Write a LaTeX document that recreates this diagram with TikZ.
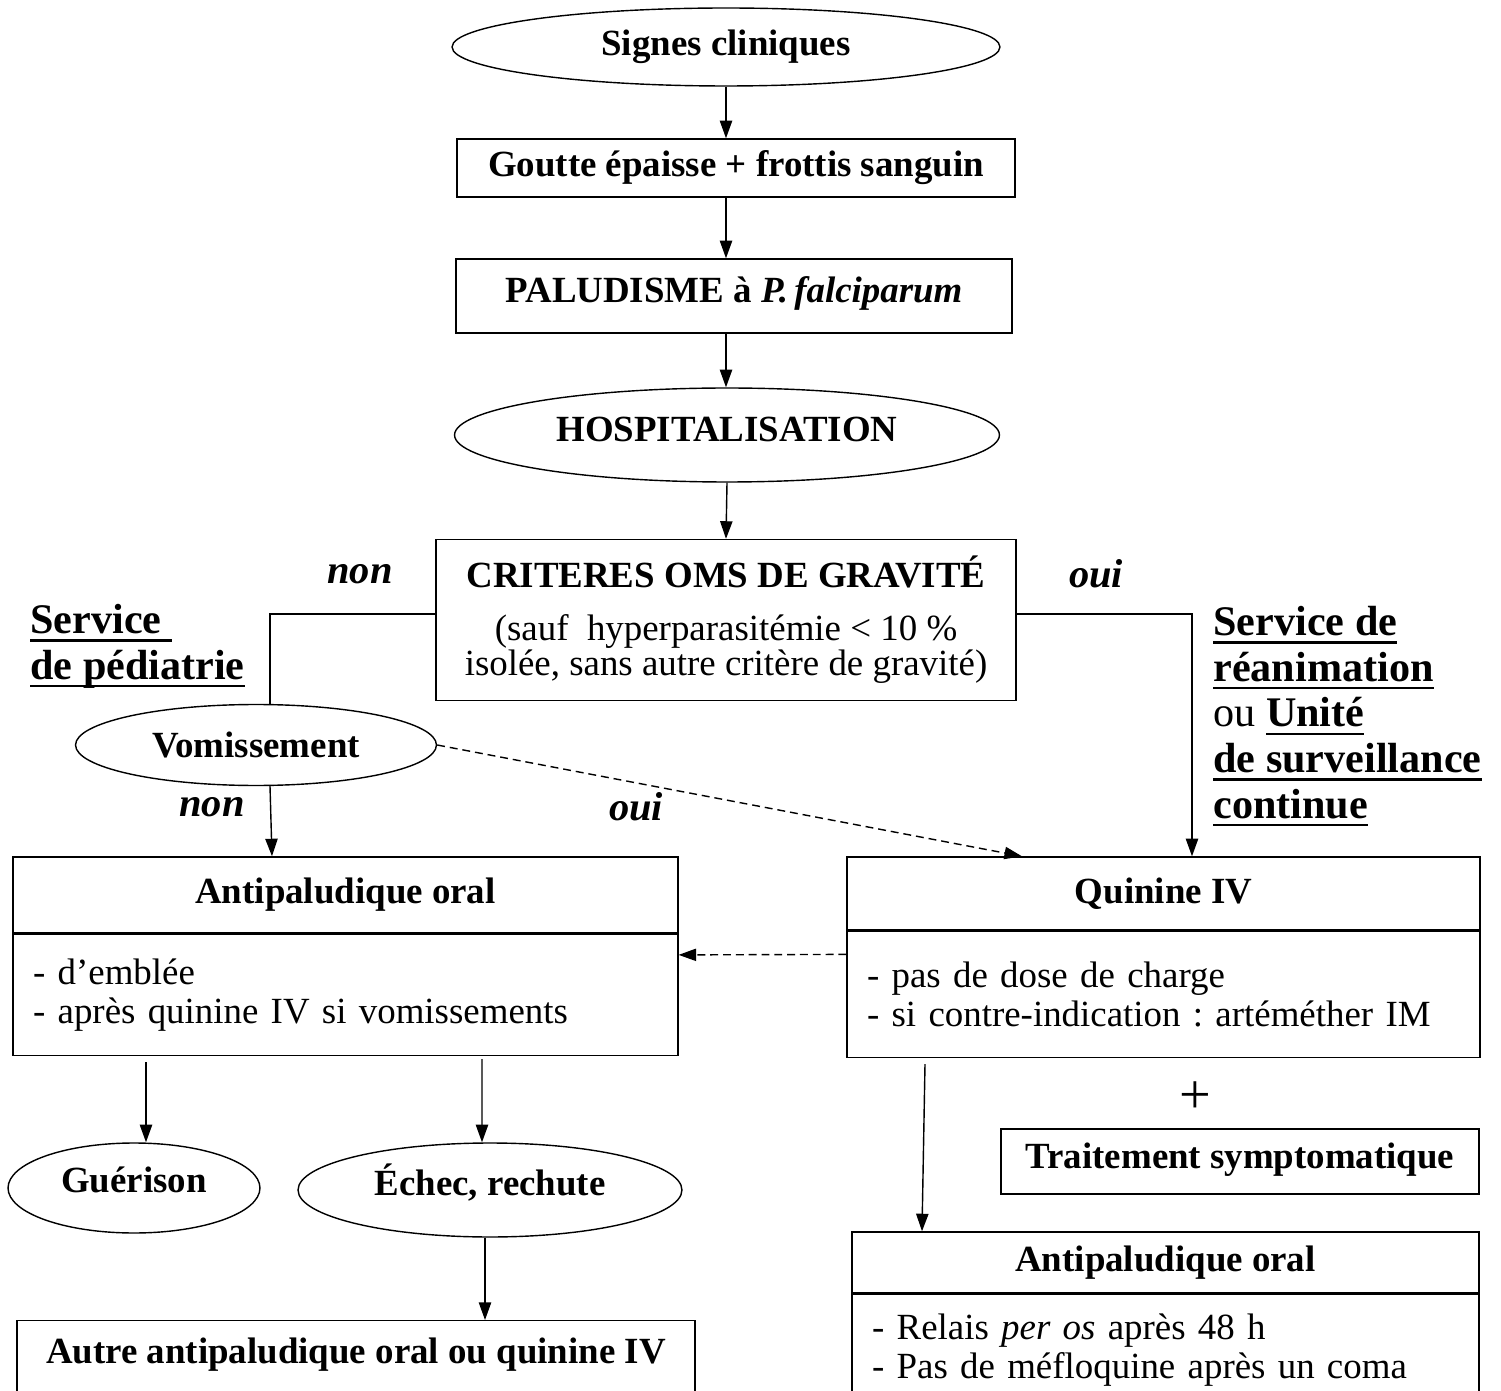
\documentclass[tikz,border=0pt]{standalone}
\usepackage{fontspec}
\setmainfont{Liberation Serif}
\usetikzlibrary{shapes.geometric,arrows.meta,positioning,calc}
\newcommand{\srvline}[1]{\setbox0\hbox{#1}\rlap{\rule[-4.5pt]{\wd0}{1.2pt}}\box0}

\begin{document}
\frenchspacing
\begin{tikzpicture}[x=0.02cm,y=-0.02cm]
      \tikzstyle{every node} = [font=\fontsize{21}{25}\selectfont]
      \tikzstyle{oval} = [draw, ellipse, inner sep=0pt, line width=0.8pt]
      \tikzstyle{block} = [draw, rectangle, inner sep=0pt, line width=0.8pt]
      \tikzstyle{listbox} = [draw, rectangle, line width=0.8pt, align=left, inner xsep=0.4cm, inner ysep=11pt, font=\fontsize{21}{22.5}\selectfont]
      \tikzstyle{flow} = [-{Triangle[length=10pt,width=7pt]}, line width=0.8pt]
      \tikzstyle{dflow} = [flow, dash pattern=on 4.5pt off 2.8pt]
      \tikzstyle{answer} = [font=\fontsize{23}{25}\selectfont\bfseries\itshape]
      \tikzstyle{service} = [align=left, inner sep=0pt, font=\fontsize{24}{26}\selectfont\bfseries]
      \useasboundingbox (0,0) rectangle (1501,1391);
      \clip (0,0) rectangle (1501,1391);
      % Main column
      \node[oval, minimum width=10.96cm, minimum height=1.56cm] (signes) at (726,47) {\textbf{Signes cliniques}};
      \node[block, minimum width=11.16cm, minimum height=1.16cm] (goutte) at (736,168) {\textbf{Goutte épaisse + frottis sanguin}};
      \node[block, minimum width=11.12cm, minimum height=1.48cm, text depth=7pt] (palu) at (734,296) {\textbf{PALUDISME à \textit{P.\,falciparum}}};
      \node[oval, minimum width=10.9cm, minimum height=1.88cm, text depth=6pt] (hospit) at (727,435) {\textbf{HOSPITALISATION}};
      \node[block, minimum width=11.6cm, minimum height=3.22cm, align=center, font=\fontsize{21}{20}\selectfont] (criteres) at (726,620) {\textbf{CRITERES OMS DE GRAVITÉ}\\[10pt](sauf~ hyperparasitémie < 10~\%\\isolée, sans autre critère de gravité)};
      \node[answer] (nonA) at (360,574) {non};
      \node[answer] (ouiA) at (1096,574) {oui};
      \node[service, anchor=north west] (pediatrie) at (30,604) {\srvline{Service\ }\\\srvline{de pédiatrie}};
      \node[service, anchor=north west] (reanim) at (1213,606) {\srvline{Service de}\\\srvline{réanimation}\\\textmd{ou} \srvline{Unité}\\\srvline{de surveillance}\\\srvline{continue}};
      % Left branch
      \node[oval, minimum width=7.22cm, minimum height=1.62cm] (vomit) at (256,745) {\textbf{Vomissement}};
      \node[answer] (nonB) at (212,807) {non};
      \node[answer] (ouiB) at (636,807) {oui};
      \node[block, minimum width=13.3cm, minimum height=1.52cm] (oralhead) at (345.5,895) {\textbf{Antipaludique oral}};
      \node[listbox, below=0pt of oralhead, minimum width=13.3cm, minimum height=2.42cm, text width=12.5cm] (oralbody) {- d’emblée\\- après quinine IV si vomissements};
      \node[oval, minimum width=5.04cm, minimum height=1.8cm, text depth=9pt] (gueri) at (134,1188) {\textbf{Guérison}};
      \node[oval, minimum width=7.68cm, minimum height=1.88cm, text depth=12pt] (echec) at (490,1190) {\textbf{Échec, rechute}};
      \node[block, anchor=north, minimum width=13.56cm, inner ysep=10pt, text depth=3cm] (autre) at (356,1320) {\textbf{Autre antipaludique oral ou quinine IV}};
      % Right branch
      \node[block, minimum width=12.66cm, minimum height=1.46cm] (quinhead) at (1163.5,893.5) {\textbf{Quinine IV}};
      \node[listbox, below=0pt of quinhead, minimum width=12.66cm, minimum height=2.52cm, text width=11.86cm] (quinbody) {- pas de dose de charge\\- si contre-indication : artéméther IM};
      \node[font=\fontsize{32}{36}\selectfont] (plus) at (1195,1098) {+};
      \node[block, minimum width=9.56cm, minimum height=1.3cm, text depth=7pt] (sympto) at (1240,1161.5) {\textbf{Traitement symptomatique}};
      \node[block, minimum width=12.54cm, minimum height=1.22cm] (relhead) at (1165.5,1262.5) {\textbf{Antipaludique oral}};
      \node[listbox, below=0pt of relhead, text width=11.74cm, text depth=3cm] (relbody) {- Relais \textit{per os} après 48 h\\- Pas de méfloquine après un coma};
      % Connections
      \draw[flow] (signes.south) -- (signes.south |- goutte.north);
      \draw[flow] (goutte.south -| signes.south) -- (palu.north -| signes.south);
      \draw[flow] (palu.south -| signes.south) -- (hospit.north -| signes.south);
      \draw[flow] (hospit.south) -- (criteres.north);
      \draw[line width=0.8pt] ([yshift=0.12cm]criteres.west) -| ($(vomit.north)+(14,0)$);
      \draw[flow] ([yshift=0.12cm]criteres.east) -| ($(quinhead.north)+(28.5,0)$);
      \draw[flow] ($(vomit.south)+(14,0)$) -- ($(oralhead.north)+(-73.5,0)$);
      \draw[dflow] (vomit.east) -- ($(quinhead.north)+(-141.5,0)$);
      \draw[dflow] ([yshift=0.8cm]quinbody.west) -- ([yshift=0.8cm]oralbody.east);
      \draw[flow] ($(oralbody.south)+(-199.5,6)$) -- ($(gueri.north)+(12,0)$);
      \draw[flow] ($(oralbody.south)+(136.5,3)$) -- ($(echec.north)+(-8,0)$);
      \draw[flow] ($(echec.south)+(-5,0)$) -- ($(autre.north)+(129,0)$);
      \draw[flow] ($(quinbody.south)+(-238.5,6)$) -- ($(relhead.north)+(-243.5,0)$);
\end{tikzpicture}
\end{document}
